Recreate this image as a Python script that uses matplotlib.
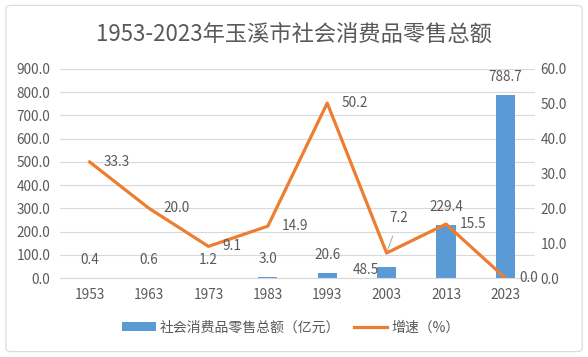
import matplotlib.pyplot as plt
from matplotlib.patches import FancyBboxPatch

plt.rcParams['font.family'] = ['Noto Sans CJK SC', 'DejaVu Sans']

years = ['1953', '1963', '1973', '1983', '1993', '2003', '2013', '2023']
sales = [0.4, 0.6, 1.2, 3.0, 20.6, 48.5, 229.4, 788.7]
growth = [33.3, 20.0, 9.1, 14.9, 50.2, 7.2, 15.5, 0.0]

bar_color = '#5b9bd5'
line_color = '#ed7d31'
text_color = '#595959'
grid_color = '#d9d9d9'

fig = plt.figure(figsize=(5.88, 3.57), dpi=100)
ax = fig.add_axes([0.102, 0.221, 0.808, 0.586])
ax2 = ax.twinx()

x = list(range(len(years)))
ax.bar(x, sales, width=0.32, color=bar_color, zorder=2,
       label='社会消费品零售总额（亿元）')
ax2.plot(x, growth, color=line_color, linewidth=2.3, zorder=3,
         label='增速（%）')

ax.set_xlim(-0.5, len(years) - 0.5)
ax.set_ylim(0, 900)
ax2.set_ylim(0, 60)
ax.set_yticks(range(0, 901, 100))
ax2.set_yticks(range(0, 61, 10))
ax.set_yticklabels([f'{v:.1f}' for v in range(0, 901, 100)])
ax2.set_yticklabels([f'{v:.1f}' for v in range(0, 61, 10)])
ax.set_xticks(x)
ax.set_xticklabels(years)

ax.grid(axis='y', color=grid_color, linewidth=0.8, zorder=0)
ax.set_axisbelow(True)
for a in (ax, ax2):
    for s in a.spines.values():
        s.set_visible(False)
    a.tick_params(length=0, colors=text_color, labelsize=9.8)
ax.spines['bottom'].set_visible(True)
ax.spines['bottom'].set_color(grid_color)
ax.tick_params(axis='x', pad=7)
ax.tick_params(axis='y', pad=7)
ax2.tick_params(axis='y', pad=4)

lab_size = 9.8

# bar labels
for i, v in enumerate(sales):
    if i == 5:
        ax.annotate(f'{v:.1f}', (i, v), xytext=(-15, -2), textcoords='offset points',
                    ha='center', va='center', fontsize=lab_size, color=text_color)
    else:
        ax.annotate(f'{v:.1f}', (i, v), xytext=(0, 13), textcoords='offset points',
                    ha='center', va='center', fontsize=lab_size, color=text_color)

# growth labels
for i, v in enumerate(growth):
    if i == 5:
        ax2.annotate(f'{v:.1f}', (i, v), xytext=(9, 25), textcoords='offset points',
                     ha='center', va='center', fontsize=lab_size, color=text_color,
                     arrowprops=dict(arrowstyle='-', color='#a6a6a6', lw=0.7,
                                     shrinkA=6, shrinkB=2))
    else:
        ax2.annotate(f'{v:.1f}', (i, v), xytext=(10, 0), textcoords='offset points',
                     ha='left', va='center', fontsize=lab_size, color=text_color)

fig.text(0.5, 0.905, '1953-2023年玉溪市社会消费品零售总额', ha='center', va='center',
         fontsize=16, color=text_color)

h1, l1 = ax.get_legend_handles_labels()
h2, l2 = ax2.get_legend_handles_labels()
fig.legend(h1 + h2, l1 + l2, loc='center', bbox_to_anchor=(0.495, 0.083), ncol=2,
           frameon=False, fontsize=10, labelcolor=text_color, handlelength=2.4,
           handletextpad=0.3, columnspacing=1.0)

border = FancyBboxPatch((0.01, 0.015), 0.98, 0.97, boxstyle='round,pad=0,rounding_size=0.01',
                        transform=fig.transFigure, fill=False, edgecolor='#d9d9d9', linewidth=0.8)
fig.patches.append(border)

fig.savefig('out.png', dpi=100)
